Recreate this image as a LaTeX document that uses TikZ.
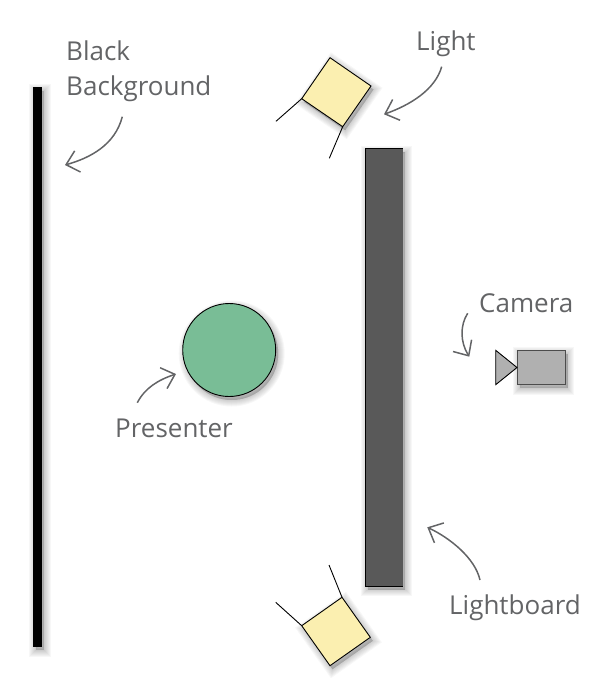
\documentclass[tikz,border=0pt]{standalone}
\usepackage{fontspec}
\setmainfont{Open Sans}
\usetikzlibrary{arrows.meta}
\definecolor{lampyellow}{HTML}{FBEFB0}
\definecolor{boardgray}{HTML}{595959}
\definecolor{persongreen}{HTML}{79BD96}
\definecolor{cameragray}{HTML}{B0B0B0}
\definecolor{notegray}{HTML}{636466}
\tikzset{
	softlayer/.style={preaction={draw=black,fill=black,draw opacity=.03,fill opacity=.03,line width=#1,transform canvas={shift={(2.5pt,-3.5pt)}}}},
	softshadow/.style={softlayer=13pt,softlayer=11pt,softlayer=9pt,softlayer=7pt,softlayer=5pt,softlayer=3pt,softlayer=1pt},
	part/.style={draw=black,line width=.9pt,softshadow},
	notelabel/.style={text=notegray,font=\fontsize{26}{36}\selectfont,inner sep=0pt,anchor=base west,align=left},
	notearrow/.style={draw=notegray,line width=1.5pt,-{Straight Barb[length=12pt,width=22pt,line width=1.5pt]}}
}
\begin{document}
\begin{tikzpicture}[x=1pt,y=-1pt]
	\useasboundingbox (0,0) rectangle (609,694);
	% stage
	\filldraw[part,fill=black] (33.3,87.3) rectangle (41.7,646.7);
	\filldraw[part,fill=boardgray] (365.3,148.5) rectangle (402.7,586.3);
	\draw[boardgray,line width=1pt] (402.7,149) -- (402.7,586.3);
	\filldraw[part,fill=persongreen] (229.2,350) circle (46.5);
	% lights
	\filldraw[part,fill=lampyellow] (330,57.7) -- (371,86) -- (342.7,126.7) -- (301.7,98.7) -- cycle;
	\draw[line width=.9pt] (301.7,98.7) -- (276,121.3);
	\draw[line width=.9pt] (342.7,126.7) -- (329.3,158.3);
	\filldraw[part,fill=lampyellow] (301.7,625.7) -- (342,597.3) -- (370.3,637.3) -- (330,665.7) -- cycle;
	\draw[line width=.9pt] (301.7,625.7) -- (275.7,602.3);
	\draw[line width=.9pt] (342,597.3) -- (329,565);
	% camera
	\filldraw[part,draw=black!70,fill=cameragray] (517,350) rectangle (565,384.7);
	\filldraw[draw=black,line width=.9pt,fill=cameragray] (495.7,350.3) -- (517,367.5) -- (495.7,384.7) -- cycle;
	% labels
	\node[notelabel] (background) at (66,60) {Black};
	\node[notelabel] (backgroundb) at (66,95) {Background};
	\node[notelabel] (light) at (416,50) {Light};
	\node[notelabel] (camera) at (479,312) {Camera};
	\node[notelabel] (presenter) at (115,437) {Presenter};
	\node[notelabel] (lightboard) at (449,614) {Lightboard};
	% arrow ends
	\coordinate (backgroundS) at (122.3,116.7);
	\coordinate (backgroundE) at (65,165);
	\coordinate (lightS) at (441.7,66.7);
	\coordinate (lightE) at (384,114.3);
	\coordinate (cameraS) at (467.7,313.3);
	\coordinate (cameraE) at (469.3,356.7);
	\coordinate (presenterS) at (137.3,402.7);
	\coordinate (presenterE) at (176,374);
	\coordinate (lightboardS) at (480,580);
	\coordinate (lightboardE) at (427.3,527.3);
	\draw[notearrow] (backgroundS) .. controls (115,145) and (90,158) .. (backgroundE);
	\draw[notearrow] (lightS) .. controls (435,90) and (410,105) .. (lightE);
	\draw[notearrow] (cameraS) .. controls (460,325) and (460,342) .. (cameraE);
	\draw[notearrow] (presenterS) .. controls (145,388) and (158,380) .. (presenterE);
	\draw[notearrow] (lightboardS) .. controls (475,558) and (450,538) .. (lightboardE);
\end{tikzpicture}
\end{document}
